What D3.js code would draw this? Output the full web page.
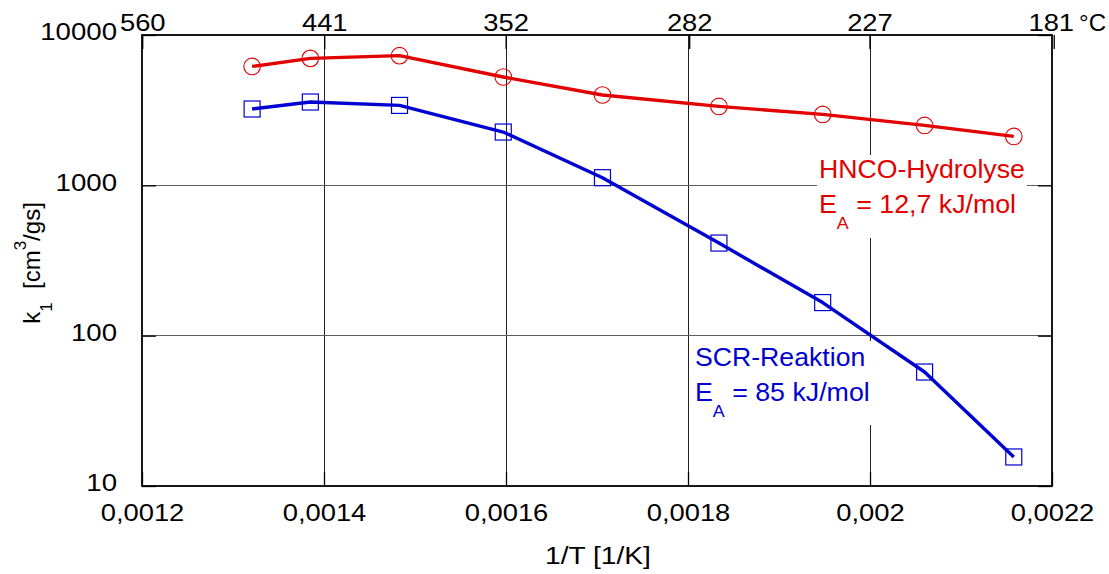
<!DOCTYPE html>
<html>
<head>
<meta charset="utf-8">
<script src="https://cdn.jsdelivr.net/npm/d3@7"></script>
<style>
  html, body { margin: 0; padding: 0; background: #fff; }
  svg { display: block; }
  text { font-family: "Liberation Sans", Arial, Helvetica, sans-serif; white-space: pre; }
</style>
</head>
<body>
<svg id="chart" width="1109" height="574"></svg>
<script>
// Reciprocal temperature of each measurement [1/K]
const inverseT = [0.001321, 0.001385, 0.001483, 0.001597, 0.001706, 0.001834, 0.001948, 0.00206, 0.002158];
// Rate constant k1 [cm^3/gs]
const hncoK = [6180, 6990, 7290, 5255, 3990, 3350, 2963, 2503, 2115];
const scrK  = [3219, 3583, 3401, 2262, 1124, 413, 166, 57.3, 15.6];

// Axis ticks
const xTicks = [0.0012, 0.0014, 0.0016, 0.0018, 0.002, 0.0022];
const xTickLabels = ["0,0012", "0,0014", "0,0016", "0,0018", "0,002", "0,0022"];
const yTicks = [10, 100, 1000, 10000];
const yTickLabels = ["10", "100", "1000", "10000"];
const tempTicksC = [560, 441, 352, 282, 227, 181];

const RED = "#e20000";
const BLUE = "#0000d0";

const svg = d3.select("#chart");
const plotL = 142, plotR = 1052, plotT = 35, plotB = 486;

const x = d3.scaleLinear().domain([0.0012, 0.0022]).range([plotL, plotR]);
const y = d3.scaleLog().domain([10, 10000]).range([plotB, plotT]);

// Widen glyphs horizontally about their anchor point
function stretch(sel, sx) {
  sel.each(function () {
    const ax = +this.getAttribute("x") || 0;
    d3.select(this).attr("transform", `translate(${ax * (1 - sx)},0) scale(${sx},1)`);
  });
}

// Grid
const grid = svg.append("g").attr("shape-rendering", "crispEdges");
grid.selectAll("line.v").data(xTicks.slice(1, -1)).join("line")
  .attr("x1", d => x(d)).attr("x2", d => x(d))
  .attr("y1", plotT).attr("y2", plotB)
  .attr("stroke", "#222").attr("stroke-width", 1);
grid.selectAll("line.h").data(yTicks.slice(1, -1)).join("line")
  .attr("x1", plotL).attr("x2", plotR)
  .attr("y1", d => y(d)).attr("y2", d => y(d))
  .attr("stroke", "#5e5e5e").attr("stroke-width", 1.3);

// Inward ticks on all four sides
const tickLen = 14;
const bottomAxis = d3.axisBottom(x).tickValues(xTicks)
  .tickFormat((d, i) => xTickLabels[i]).tickSizeInner(-tickLen).tickSizeOuter(0).tickPadding(0);
const gB = svg.append("g").attr("transform", `translate(0,${plotB})`).call(bottomAxis);
gB.select(".domain").remove();
gB.selectAll("text").attr("y", 35).attr("dy", null)
  .attr("font-size", 24).attr("fill", "#000");
stretch(gB.selectAll("text"), 1.14);

const leftAxis = d3.axisLeft(y).tickValues(yTicks)
  .tickFormat((d, i) => yTickLabels[i]).tickSizeInner(-tickLen).tickSizeOuter(0).tickPadding(0);
const gL = svg.append("g").attr("transform", `translate(${plotL},0)`).call(leftAxis);
gL.select(".domain").remove();
gL.selectAll("text").attr("x", -25).attr("dy", "0.2em")
  .attr("font-size", 24).attr("fill", "#000");
stretch(gL.selectAll("text"), 1.15);

const rightAxis = d3.axisRight(y).tickValues(yTicks).tickFormat("").tickSizeInner(-tickLen).tickSizeOuter(0);
const gR = svg.append("g").attr("transform", `translate(${plotR},0)`).call(rightAxis);
gR.select(".domain").remove();

const topPos = tempTicksC.map(t => 1 / (t + 273.15));
const topAxis = d3.axisTop(x).tickValues(topPos)
  .tickFormat((d, i) => String(tempTicksC[i])).tickSizeInner(-tickLen).tickSizeOuter(0).tickPadding(0);
const gT = svg.append("g").attr("transform", `translate(0,${plotT})`).call(topAxis);
gT.select(".domain").remove();
gT.selectAll("text").attr("y", -4).attr("dy", null)
  .attr("font-size", 24).attr("fill", "#000");
// the last temperature label carries the unit, so it is shifted slightly left
const lastTick = gT.selectAll(".tick").filter((d, i, n) => i === n.length - 1);
lastTick.select("text").attr("x", -3);
stretch(gT.selectAll("text"), 1.14);
const lastText = lastTick.select("text");
const halfW = lastText.node().getComputedTextLength() * 1.14 / 2;
lastTick.append("text").attr("x", -3 + halfW + 5).attr("y", -4)
  .attr("font-size", 24).attr("fill", "#000").attr("text-anchor", "start").text("°C");

svg.selectAll(".tick line").attr("stroke", "#000").attr("stroke-width", 1.3);

// Frame
svg.append("rect").attr("x", plotL).attr("y", plotT)
  .attr("width", plotR - plotL).attr("height", plotB - plotT)
  .attr("fill", "none").attr("stroke", "#000").attr("stroke-width", 1.8);

// Annotation backgrounds
svg.append("rect").attr("x", 817).attr("y", 155).attr("width", 210).attr("height", 83).attr("fill", "#fff");
svg.append("rect").attr("x", 691).attr("y", 341).attr("width", 181).attr("height", 84).attr("fill", "#fff");

// Series
const line = d3.line().x(d => x(d[0])).y(d => y(d[1]));
const hncoPts = inverseT.map((t, i) => [t, hncoK[i]]);
const scrPts = inverseT.map((t, i) => [t, scrK[i]]);

svg.append("path").datum(hncoPts).attr("d", line)
  .attr("fill", "none").attr("stroke", RED).attr("stroke-width", 3.4).attr("stroke-linejoin", "round");
svg.append("path").datum(scrPts).attr("d", line)
  .attr("fill", "none").attr("stroke", BLUE).attr("stroke-width", 3.4).attr("stroke-linejoin", "round");

svg.append("g").selectAll("circle").data(hncoPts).join("circle")
  .attr("cx", d => x(d[0])).attr("cy", d => y(d[1])).attr("r", 8.3)
  .attr("fill", "none").attr("stroke", RED).attr("stroke-width", 1.1);
svg.append("g").selectAll("rect").data(scrPts).join("rect")
  .attr("x", d => x(d[0]) - 8).attr("y", d => y(d[1]) - 8)
  .attr("width", 16).attr("height", 16)
  .attr("fill", "none").attr("stroke", BLUE).attr("stroke-width", 1.2);

// Series labels
function seriesLabel(x0, y0, name, ea, color) {
  const g = svg.append("g").attr("fill", color).attr("font-size", 25.5);
  g.append("text").attr("x", x0).attr("y", y0).text(name).call(s => stretch(s, 1.045));
  const t = g.append("text").attr("x", x0).attr("y", y0 + 35);
  t.append("tspan").text("E");
  t.append("tspan").attr("font-size", 17).attr("dy", 16).text("A");
  t.append("tspan").attr("dy", -16).text(" = " + ea);
  stretch(t, 1.05);
}
seriesLabel(819, 178, "HNCO-Hydrolyse", "12,7 kJ/mol", RED);
seriesLabel(695, 366, "SCR-Reaktion", "85 kJ/mol", BLUE);

// Axis titles
svg.append("text").attr("x", 598).attr("y", 564).attr("text-anchor", "middle")
  .attr("font-size", 24.5).attr("fill", "#000").text("1/T [1/K]")
  .call(s => stretch(s, 1.15));

const yt = svg.append("text").attr("transform", "translate(40,263) rotate(-90)")
  .attr("text-anchor", "middle").attr("font-size", 24).attr("fill", "#000");
yt.append("tspan").text("k");
yt.append("tspan").attr("font-size", 17).attr("dy", 12).text("1");
yt.append("tspan").attr("dy", -12).text("  [cm");
yt.append("tspan").attr("font-size", 17).attr("dy", -14).text("3");
yt.append("tspan").attr("dy", 14).text("/gs]");
</script>
</body>
</html>
